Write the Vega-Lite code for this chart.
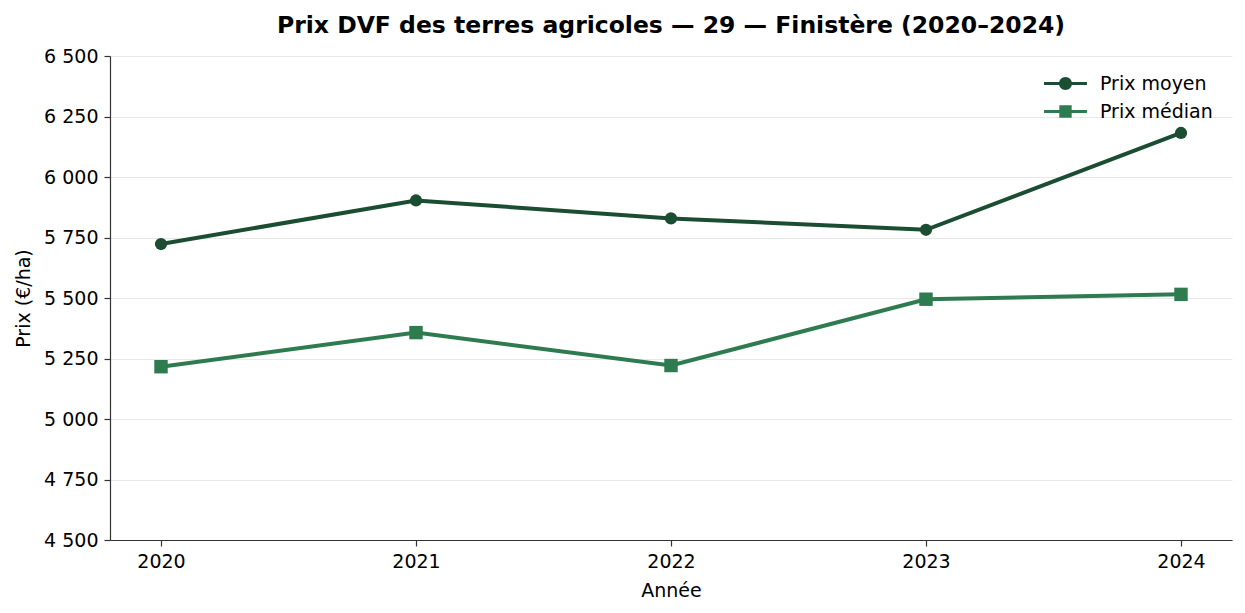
{
  "$schema": "https://vega.github.io/schema/vega-lite/v6.json",
  "width": 1122,
  "height": 484,
  "autosize": {"type": "none"},
  "padding": {"left": 110, "top": 56, "right": 13, "bottom": 73},
  "background": "white",
  "title": {
    "text": "Prix DVF des terres agricoles — 29 — Finistère (2020–2024)",
    "font": "DejaVu Sans",
    "fontSize": 23.5,
    "fontWeight": "bold",
    "color": "black",
    "anchor": "middle",
    "offset": 10
  },
  "data": {
    "values": [
      {"annee": 2020, "serie": "Prix moyen", "prix": 5723},
      {"annee": 2021, "serie": "Prix moyen", "prix": 5903},
      {"annee": 2022, "serie": "Prix moyen", "prix": 5829},
      {"annee": 2023, "serie": "Prix moyen", "prix": 5782},
      {"annee": 2024, "serie": "Prix moyen", "prix": 6182},
      {"annee": 2020, "serie": "Prix médian", "prix": 5216},
      {"annee": 2021, "serie": "Prix médian", "prix": 5357},
      {"annee": 2022, "serie": "Prix médian", "prix": 5221},
      {"annee": 2023, "serie": "Prix médian", "prix": 5495},
      {"annee": 2024, "serie": "Prix médian", "prix": 5515}
    ]
  },
  "encoding": {
    "x": {
      "field": "annee",
      "type": "quantitative",
      "scale": {"domain": [2019.8, 2024.2], "nice": false, "zero": false},
      "axis": {
        "title": "Année",
        "values": [2020, 2021, 2022, 2023, 2024],
        "format": "d",
        "grid": false,
        "tickSize": 6,
        "labelPadding": 6,
        "titlePadding": 10
      }
    },
    "y": {
      "field": "prix",
      "type": "quantitative",
      "scale": {"domain": [4500, 6500], "nice": false, "zero": false},
      "axis": {
        "title": "Prix (€/ha)",
        "values": [4500, 4750, 5000, 5250, 5500, 5750, 6000, 6250, 6500],
        "labelExpr": "replace(format(datum.value, ','), ',', ' ')",
        "grid": true,
        "tickSize": 6,
        "labelPadding": 6,
        "titlePadding": 10
      }
    }
  },
  "layer": [
    {
      "mark": {"type": "line", "strokeWidth": 4},
      "encoding": {
        "color": {
          "field": "serie",
          "type": "nominal",
          "scale": {"domain": ["Prix moyen", "Prix médian"], "range": ["#1b4d32", "#2e7b50"]},
          "legend": null
        }
      }
    },
    {
      "mark": {"type": "point", "filled": true, "opacity": 1},
      "encoding": {
        "color": {
          "field": "serie",
          "type": "nominal",
          "scale": {"domain": ["Prix moyen", "Prix médian"], "range": ["#1b4d32", "#2e7b50"]},
          "legend": null
        },
        "shape": {
          "field": "serie",
          "type": "nominal",
          "scale": {"domain": ["Prix moyen", "Prix médian"], "range": ["circle", "square"]},
          "legend": null
        },
        "size": {
          "field": "serie",
          "type": "nominal",
          "scale": {"domain": ["Prix moyen", "Prix médian"], "range": [150, 180]},
          "legend": null
        }
      }
    },
    {
      "mark": {"type": "point", "filled": true, "opacity": 0},
      "encoding": {
        "color": {
          "field": "serie",
          "type": "nominal",
          "scale": {"domain": ["Prix moyen", "Prix médian"], "range": ["#1b4d32", "#2e7b50"]},
          "legend": {
            "title": null,
            "orient": "none",
            "legendX": 946,
            "legendY": 18,
            "padding": 0,
            "symbolSize": 169,
            "symbolOpacity": 1,
            "labelOffset": 25,
            "rowPadding": 8,
            "labelFontSize": 19,
            "labelFont": "DejaVu Sans",
            "labelColor": "black"
          }
        },
        "shape": {
          "field": "serie",
          "type": "nominal",
          "scale": {
            "domain": ["Prix moyen", "Prix médian"],
            "range": [
              "M-3.3,-0.23H3.3V0.23H-3.3ZM-1,0A1,1,0,1,1,1,0A1,1,0,1,1,-1,0Z",
              "M-3.3,-0.23H3.3V0.23H-3.3ZM-0.95,-0.95H0.95V0.95H-0.95Z"
            ]
          },
          "legend": {
            "title": null,
            "orient": "none",
            "legendX": 946,
            "legendY": 18,
            "padding": 0,
            "symbolSize": 169,
            "symbolOpacity": 1,
            "labelOffset": 25,
            "rowPadding": 8,
            "labelFontSize": 19,
            "labelFont": "DejaVu Sans",
            "labelColor": "black"
          }
        }
      }
    }
  ],
  "resolve": {
    "scale": {"color": "independent", "shape": "independent", "size": "independent"},
    "legend": {"color": "independent", "shape": "independent"}
  },
  "config": {
    "view": {"stroke": null},
    "font": "DejaVu Sans",
    "axis": {
      "labelFont": "DejaVu Sans",
      "labelFontSize": 19,
      "labelColor": "black",
      "titleFont": "DejaVu Sans",
      "titleFontSize": 19,
      "titleFontWeight": "normal",
      "titleColor": "black",
      "domainColor": "#333333",
      "domainWidth": 1.2,
      "tickColor": "#333333",
      "tickWidth": 1.2,
      "gridColor": "#e8e8e8",
      "gridWidth": 1.2
    }
  }
}
